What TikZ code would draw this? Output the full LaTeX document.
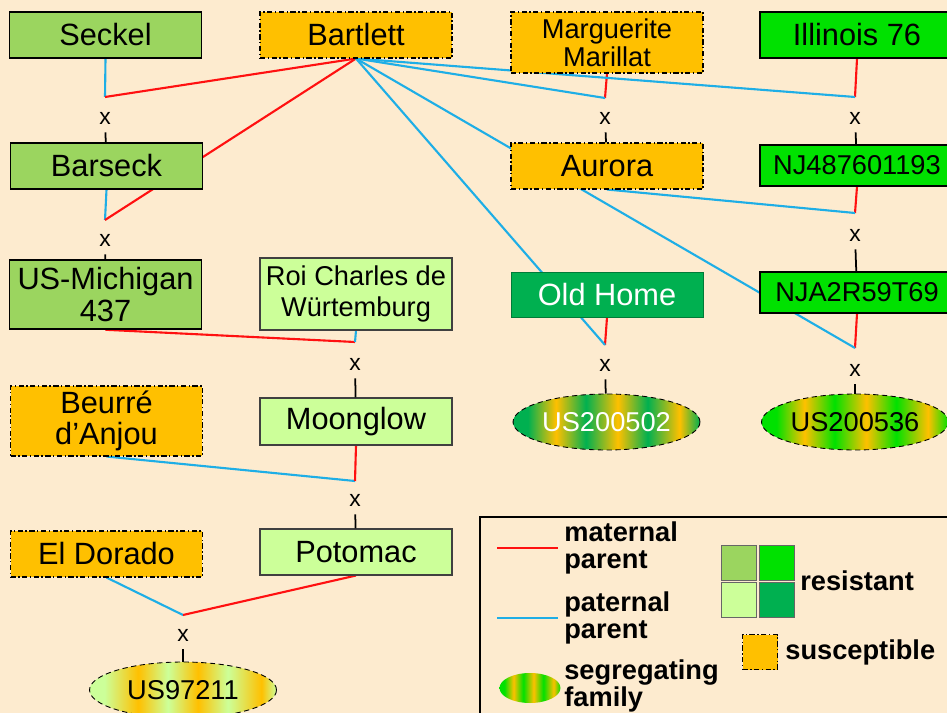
\documentclass[tikz,border=0pt]{standalone}
\usepackage{fontspec}
\setmainfont{Liberation Sans}
\usetikzlibrary{shapes,positioning}

\definecolor{bgcol}{HTML}{FDEBCF}
\definecolor{midgreen}{HTML}{9BD55F}
\definecolor{brightgreen}{HTML}{00E100}
\definecolor{palegreen}{HTML}{CCFF99}
\definecolor{darkgreen}{HTML}{00B050}
\definecolor{suscol}{HTML}{FFC000}
\definecolor{matred}{HTML}{FF1010}
\definecolor{patblue}{HTML}{1EAEE6}

% striped fills for the segregating families
\pgfdeclarehorizontalshading{segdark}{100bp}{color(0bp)=(darkgreen); color(29bp)=(darkgreen); color(36.5bp)=(suscol); color(44.5bp)=(darkgreen); color(53bp)=(suscol); color(61bp)=(darkgreen); color(69.5bp)=(suscol); color(75bp)=(darkgreen); color(100bp)=(darkgreen)}
\pgfdeclarehorizontalshading{segbright}{100bp}{color(0bp)=(brightgreen); color(29bp)=(brightgreen); color(36.5bp)=(suscol); color(44.5bp)=(brightgreen); color(53bp)=(suscol); color(61bp)=(brightgreen); color(69.5bp)=(suscol); color(75bp)=(brightgreen); color(100bp)=(brightgreen)}
\pgfdeclarehorizontalshading{segpale}{100bp}{color(0bp)=(palegreen); color(29bp)=(palegreen); color(38bp)=(suscol); color(46bp)=(palegreen); color(54bp)=(suscol); color(62bp)=(palegreen); color(71bp)=(suscol); color(75bp)=(palegreen); color(100bp)=(palegreen)}

\pgfdeclarelayer{background}
\pgfdeclarelayer{links}
\pgfsetlayers{background,links,main}

\begin{document}
\begin{tikzpicture}[x=0.02cm, y=-0.02cm,
  box/.style={draw, line width=0.9pt, inner sep=0pt, align=center,
    minimum width=3.84cm, minimum height=0.92cm,
    font=\fontsize{17.5}{18}\selectfont},
  small/.style={font=\fontsize{15.5}{16}\selectfont},
  res1/.style={box, fill=midgreen},
  res2/.style={box, fill=brightgreen, minimum width=3.88cm, minimum height=0.82cm, small},
  res3/.style={box, fill=palegreen, draw=black!75, line width=0.6pt},
  res4/.style={box, fill=darkgreen, draw=darkgreen!70!black, line width=0.5pt, text=white},
  sus/.style={box, fill=suscol, line width=0.6pt, dash pattern=on 3pt off 1.4pt on 0.8pt off 1.4pt},
  family/.style={ellipse, draw, densely dashed, line width=0.5pt, inner sep=0pt,
    minimum width=3.74cm, minimum height=1.12cm, font=\fontsize{15.5}{16}\selectfont},
  xmark/.style={inner sep=4.5pt, font=\fontsize{13}{13}\selectfont},
  mat/.style={draw=matred, line width=1.2pt},
  pat/.style={draw=patblue, line width=1.2pt},
  child/.style={draw=black, line width=1pt},
  legtext/.style={anchor=west, inner sep=0pt, align=left,
    font=\fontsize{15.5}{15.5}\selectfont\bfseries},
  keysq/.style={draw=black!60, line width=0.5pt, minimum size=0.7cm, inner sep=0pt}]

  \useasboundingbox (0,0) rectangle (947,713);
  \begin{pgfonlayer}{background}
    \fill[bgcol] (0,0) rectangle (947,713);
  \end{pgfonlayer}

  % cultivars
  \node[res1] (seckel) at (105.5,35) {Seckel};
  \node[sus] (bartlett) at (356,35) {Bartlett};
  \node[sus, small, minimum height=1.22cm] (marguerite) at (607,42.5) {Marguerite\\Marillat};
  \node[res2, font=\fontsize{17.5}{18}\selectfont, minimum height=0.92cm] (illinois) at (857,35) {Illinois 76};
  \node[res1] (barseck) at (106.5,166) {Barseck};
  \node[sus] (aurora) at (607,166) {Aurora};
  \node[res2] (nj48) at (857,165.5) {NJ487601193};
  \node[res1, minimum height=1.38cm] (michigan) at (105.5,294.5) {US-Michigan\\437};
  \node[res3, small, font=\fontsize{15.5}{18}\selectfont, minimum height=1.44cm] (roi) at (356,294) {Roi Charles de\\Würtemburg};
  \node[res4, minimum height=0.9cm] (oldhome) at (607,294.5) {Old Home};
  \node[res2] (nja2) at (857,292.5) {NJA2R59T69};
  \node[sus, minimum height=1.4cm] (beurre) at (106.5,421) {Beurré\\d’Anjou};
  \node[res3, minimum height=0.94cm] (moonglow) at (356,421.5) {Moonglow};
  \node[sus] (eldorado) at (106.5,554) {El Dorado};
  \node[res3] (potomac) at (356,552) {Potomac};

  % segregating families
  \node[family, shade, shading=segdark, text=white] (us502) at (606.5,422) {US200502};
  \node[family, shade, shading=segbright] (us536) at (855,422) {US200536};
  \node[family, shade, shading=segpale] (us211) at (183,690) {US97211};

  % crosses
  \coordinate (c1) at (105,97);
  \coordinate (c2) at (105,220);
  \coordinate (c3) at (355,342);
  \coordinate (c4) at (355,481);
  \coordinate (c5) at (183,615);
  \coordinate (c6) at (605,98);
  \coordinate (c7) at (855,97);
  \coordinate (c8) at (855,213);
  \coordinate (c9) at (605,345);
  \coordinate (c10) at (855,348);

  \node[xmark] (x1) at (105,118) {x};
  \node[xmark] (x2) at (105,240) {x};
  \node[xmark] (x3) at (355,364) {x};
  \node[xmark] (x4) at (355,500) {x};
  \node[xmark] (x5) at (183,635) {x};
  \node[xmark] (x6) at (605,118) {x};
  \node[xmark] (x7) at (855,118) {x};
  \node[xmark] (x8) at (855,235) {x};
  \node[xmark] (x9) at (605,365) {x};
  \node[xmark] (x10) at (855,370) {x};

  \begin{pgfonlayer}{links}
    \draw[pat] (seckel.south) -- (c1);
    \draw[mat] (bartlett.south) -- (c1);
    \draw[pat] (barseck.south) -- (c2);
    \draw[mat] (bartlett.south) -- (c2);
    \draw[mat] (michigan.south) -- (c3);
    \draw[pat] (roi.south) -- (c3);
    \draw[pat] (beurre.south) -- (c4);
    \draw[mat] (moonglow.south) -- (c4);
    \draw[pat] (eldorado.south) -- (c5);
    \draw[mat] (potomac.south) -- (c5);
    \draw[mat] (marguerite.south) -- (c6);
    \draw[pat] (bartlett.south) -- (c6);
    \draw[mat] (illinois.south) -- (c7);
    \draw[pat] (bartlett.south) -- (c7);
    \draw[mat] (nj48.south) -- (c8);
    \draw[pat] (aurora.south) -- (c8);
    \draw[mat] (oldhome.south) -- (c9);
    \draw[pat] (bartlett.south) -- (c9);
    \draw[mat] (nja2.south) -- (c10);
    \draw[pat] (bartlett.south) -- (c10);
  \end{pgfonlayer}

  \draw[child] (x1) -- (barseck);
  \draw[child] (x2) -- (michigan);
  \draw[child] (x3) -- (moonglow);
  \draw[child] (x4) -- (potomac);
  \draw[child] (x5) -- (us211);
  \draw[child] (x6) -- (aurora);
  \draw[child] (x7) -- (nj48);
  \draw[child] (x8) -- (nja2);
  \draw[child] (x9) -- (us502);
  \draw[child] (x10) -- (us536);

  % legend
  \draw[line width=0.9pt, fill=bgcol] (480,517) rectangle (960,725);
  \coordinate (matA) at (497,548);
  \coordinate (matB) at (558,548);
  \coordinate (patA) at (497,618);
  \coordinate (patB) at (558,618);
  \draw[mat, line width=1.7pt] (matA) -- (matB);
  \draw[pat, line width=1.7pt] (patA) -- (patB);
  \node[legtext] (matlab) at (564,548) {maternal\\parent};
  \node[legtext] (patlab) at (564,618) {paternal\\parent};
  \node[ellipse, draw=none, shade, shading=segbright, minimum width=1.22cm,
    minimum height=0.6cm, inner sep=0pt] (kfam) at (530,688) {};
  \node[legtext] (famlab) at (564,686) {segregating\\family};
  \node[keysq, fill=midgreen] (k1) at (738.5,563) {};
  \node[keysq, fill=brightgreen] (k2) at (777,563) {};
  \node[keysq, fill=palegreen] (k3) at (738.5,600) {};
  \node[keysq, fill=darkgreen] (k4) at (777,600) {};
  \node[legtext] (reslab) at (800,581) {resistant};
  \node[keysq, fill=suscol, draw=black, dash pattern=on 3pt off 1.4pt on 0.8pt off 1.4pt] (k5) at (760,652) {};
  \node[legtext] (suslab) at (785,652) {susceptible};
\end{tikzpicture}
\end{document}
